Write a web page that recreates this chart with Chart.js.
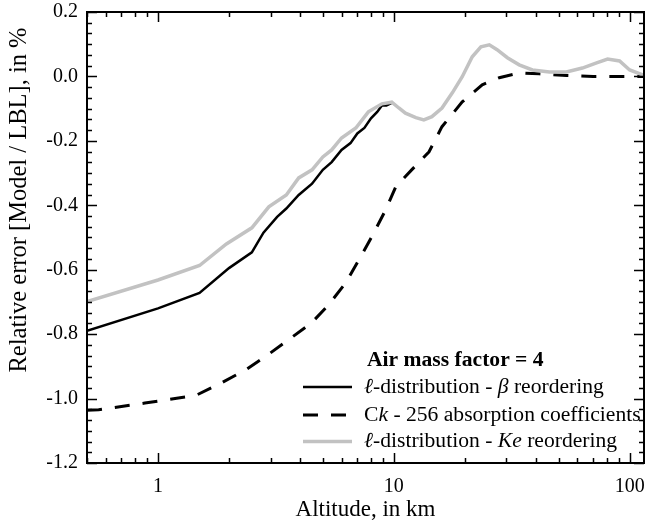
<!DOCTYPE html>
<html>
<head>
<meta charset="utf-8">
<script src="https://cdn.jsdelivr.net/npm/chart.js@4.4.1/dist/chart.umd.min.js"></script>
<style>
  html, body { margin: 0; padding: 0; background: #fff; }
  #wrap { width: 647px; height: 525px; }
</style>
</head>
<body>
<div id="wrap"><canvas id="graph"></canvas></div>
<script>
// l-distribution, beta reordering (black)
var altBeta = [0.5, 1, 1.5, 2, 2.5, 2.8, 3.2, 3.5, 3.95, 4.5, 5.0, 5.45, 6.0, 6.55, 7.0, 7.5, 8.0, 8.5, 8.9, 9.3, 9.8];
var errBeta = [-0.79, -0.72, -0.672, -0.595, -0.546, -0.485, -0.436, -0.41, -0.368, -0.333, -0.29, -0.266, -0.228, -0.207, -0.177, -0.16, -0.13, -0.11, -0.09, -0.09, -0.082];

// Ck, 256 absorption coefficients (dashed)
var altCk = [0.5, 0.56, 0.88, 1.22, 1.45, 1.85, 2.35, 2.85, 3.57, 4.48, 5.29, 6.25, 7.1, 8.06, 9.22, 10.2, 11.9, 14.1, 16, 19.5, 23.7, 28, 34, 41.4, 54, 70, 100, 115];
var errCk = [-1.036, -1.035, -1.014, -0.998, -0.99, -0.952, -0.911, -0.87, -0.818, -0.765, -0.709, -0.641, -0.57, -0.498, -0.415, -0.342, -0.29, -0.234, -0.156, -0.079, -0.026, -0.004, 0.011, 0.008, 0.003, 0.0, 0.0, 0.0];

// l-distribution, Ke reordering (grey)
var altKe = [0.5, 1, 1.5, 1.95, 2.5, 2.95, 3.5, 3.95, 4.5, 5.0, 5.45, 6.0, 6.9, 7.8, 8.9, 9.8, 10.5, 11.2, 12.4, 13.4, 14.5, 16, 17.7, 19.5, 21.5, 23.4, 25.4, 27.4, 30.3, 34, 38.7, 45.7, 53.9, 63, 72.4, 80.6, 90.6, 100, 115];
var errKe = [-0.699, -0.632, -0.587, -0.52, -0.47, -0.405, -0.368, -0.315, -0.29, -0.25, -0.228, -0.191, -0.16, -0.11, -0.085, -0.08, -0.098, -0.114, -0.128, -0.135, -0.125, -0.098, -0.051, -0.001, 0.061, 0.092, 0.098, 0.083, 0.058, 0.036, 0.02, 0.014, 0.014, 0.026, 0.042, 0.054, 0.048, 0.02, 0.003];

var xLabels = [1, 10, 100];

function pts(xs, ys) {
    return xs.map(function(x, i) { return {x: x, y: ys[i]}; });
}

var SERIF = "'Liberation Serif', 'Times New Roman', serif";

// legend rows as text pieces, [text, italic]
var legendTitle = 'Air mass factor = 4';
var legendRows = [
    [['\u2113', true], ['-distribution - ', false], ['\u03B2', true], [' reordering', false]],
    [['C', false], ['k', true], [' - 256 absorption coefficients', false]],
    [['\u2113', true], ['-distribution - ', false], ['Ke', true], [' reordering', false]]
];

// frame + inward ticks on all four sides
var frameTicks = {
    id: 'frameTicks',
    afterDatasetsDraw: function(chart) {
        var ctx = chart.ctx, a = chart.chartArea;
        var xs = chart.scales.x, ys = chart.scales.y;
        ctx.save();
        ctx.strokeStyle = '#000';
        ctx.lineWidth = 1.5;
        ctx.beginPath();
        // x ticks (log)
        [0.1, 1, 10, 100].forEach(function(d) {
            for (var m = 1; m <= 9; m++) {
                var v = m * d;
                if (v < xs.min || v > xs.max) continue;
                var px = Math.round(xs.getPixelForValue(v)) + 0.5;
                var len = (m === 1) ? 10 : 5;
                ctx.moveTo(px, a.bottom); ctx.lineTo(px, a.bottom - len);
                ctx.moveTo(px, a.top); ctx.lineTo(px, a.top + len);
            }
        });
        // y ticks, 6 minor steps per 0.2
        for (var i = 0; i <= 42; i++) {
            var v = -1.2 + i * 0.2 / 6;
            var py = Math.round(ys.getPixelForValue(v)) + 0.5;
            var len = (i % 6 === 0) ? 10 : 5;
            ctx.moveTo(a.left, py); ctx.lineTo(a.left + len, py);
            ctx.moveTo(a.right, py); ctx.lineTo(a.right - len, py);
        }
        ctx.stroke();
        ctx.lineWidth = 2;
        ctx.strokeRect(a.left, a.top, a.right - a.left, a.bottom - a.top);

        // y axis title, rotated
        ctx.fillStyle = '#000';
        ctx.font = '24.5px ' + SERIF;
        ctx.textAlign = 'center';
        ctx.textBaseline = 'middle';
        ctx.translate(20, 200);
        ctx.rotate(-Math.PI / 2);
        ctx.fillText('Relative error [Model / LBL], in %', 0, 0);
        ctx.restore();
    }
};

// legend drawn by hand because of the mixed italic text
var richLegend = {
    id: 'richLegend',
    afterDraw: function(chart) {
        var ctx = chart.ctx, a = chart.chartArea;
        var x0 = a.right - 341, x1 = a.right - 292, tx = a.right - 280;
        var rowY = [a.bottom - 76, a.bottom - 48, a.bottom - 21.5];
        ctx.save();
        ctx.fillStyle = '#000';
        ctx.textBaseline = 'middle';
        ctx.textAlign = 'left';
        ctx.font = 'bold 21.6px ' + SERIF;
        ctx.fillText(legendTitle, tx + 3, a.bottom - 103);
        chart.data.datasets.forEach(function(ds, k) {
            var y = rowY[k];
            ctx.strokeStyle = ds.borderColor;
            ctx.lineWidth = ds.borderWidth;
            ctx.setLineDash(ds.borderDash || []);
            ctx.beginPath();
            ctx.moveTo(x0, y); ctx.lineTo(x1, y);
            ctx.stroke();
            ctx.setLineDash([]);
            var cx = tx;
            legendRows[k].forEach(function(p) {
                ctx.font = (p[1] ? 'italic ' : '') + '21.6px ' + SERIF;
                ctx.fillText(p[0], cx, y);
                cx += ctx.measureText(p[0]).width;
            });
        });
        ctx.restore();
    }
};

var graph = document.getElementById('graph').getContext('2d');
new Chart(graph, {
    type: 'line',
    data: {
        datasets: [
            {
                label: '\u2113-distribution - \u03B2 reordering',
                data: pts(altBeta, errBeta),
                borderColor: '#000000',
                borderWidth: 2.5,
                order: 1
            },
            {
                label: 'Ck - 256 absorption coefficients',
                data: pts(altCk, errCk),
                borderColor: '#000000',
                borderWidth: 3,
                borderDash: [15, 13],
                order: 2
            },
            {
                label: '\u2113-distribution - Ke reordering',
                data: pts(altKe, errKe),
                borderColor: '#c2c2c2',
                borderWidth: 3.5,
                order: 0
            }
        ]
    },
    options: {
        responsive: true,
        maintainAspectRatio: false,
        animation: false,
        layout: { padding: { top: 12, right: 3, left: 0, bottom: 0 } },
        elements: { point: { radius: 0 }, line: { tension: 0 } },
        plugins: {
            legend: { display: false },
            tooltip: { enabled: false }
        },
        scales: {
            x: {
                type: 'logarithmic',
                min: 0.5,
                max: 115,
                grid: { display: false, drawTicks: false },
                border: { display: false },
                ticks: {
                    autoSkip: false,
                    maxRotation: 0,
                    padding: 12,
                    color: '#000',
                    font: { family: SERIF, size: 20 },
                    callback: function(v) {
                        return xLabels.indexOf(v) >= 0 ? String(v) : '';
                    }
                },
                title: {
                    display: true,
                    text: 'Altitude, in km',
                    color: '#000',
                    font: { family: SERIF, size: 23 },
                    padding: { top: 0, bottom: 1 }
                },
                afterFit: function(s) {
                    s.height = 62;
                    s.paddingLeft = 0;
                    s.paddingRight = 0;
                }
            },
            y: {
                min: -1.2,
                max: 0.2,
                grid: { display: false, drawTicks: false },
                border: { display: false },
                ticks: {
                    stepSize: 0.2,
                    padding: 9,
                    color: '#000',
                    font: { family: SERIF, size: 20 },
                    callback: function(v) {
                        return Math.abs(v) < 1e-9 ? '0.0' : v.toFixed(1);
                    }
                },
                afterFit: function(s) {
                    s.width = 87;
                    s.paddingTop = 0;
                    s.paddingBottom = 0;
                }
            }
        }
    },
    plugins: [frameTicks, richLegend]
});
</script>
</body>
</html>
